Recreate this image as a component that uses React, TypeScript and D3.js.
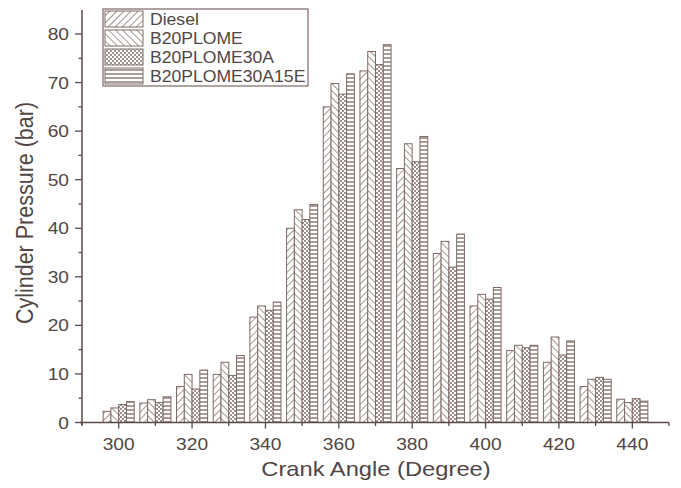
import React from "react";
import * as d3 from "d3";

const angles = [300, 310, 320, 330, 340, 350, 360, 370, 380, 390, 400, 410, 420, 430, 440];
const diesel = [2.3, 4.0, 7.4, 9.9, 21.7, 40.0, 65.0, 72.4, 52.3, 34.8, 24.0, 14.8, 12.4, 7.4, 4.8];
const b20plome = [3.0, 4.7, 9.9, 12.4, 24.0, 43.8, 69.8, 76.4, 57.4, 37.3, 26.4, 15.9, 17.6, 8.9, 4.1];
const b20plome30a = [3.7, 4.1, 6.9, 9.7, 23.1, 41.8, 67.6, 73.7, 53.7, 32.0, 25.4, 15.4, 13.9, 9.3, 4.9];
const b20plome30a15e = [4.3, 5.3, 10.8, 13.8, 24.8, 44.9, 71.8, 77.8, 58.9, 38.8, 27.8, 15.9, 16.8, 8.9, 4.4];
const seriesNames = ["Diesel", "B20PLOME", "B20PLOME30A", "B20PLOME30A15E"];
const xTicks = [300, 320, 340, 360, 380, 400, 420, 440];
const xMinor = [290, 310, 330, 350, 370, 390, 410, 430, 450];
const yTicks = [0, 10, 20, 30, 40, 50, 60, 70, 80];
const yMinor = [5, 15, 25, 35, 45, 55, 65, 75];

const W = 681, H = 488;
const x = d3.scaleLinear().domain([290, 450]).range([82, 669]);
const y = d3.scaleLinear().domain([0, 80]).range([422.5, 34]);
const axisColor = "#5a4a47";
const textColor = "#524644";
const barStroke = "#7e6a66";
const patLine = "#8f7b77";
const FONT = "'Liberation Sans', Arial, sans-serif";
const SX = 1.13;

const allSeries = [diesel, b20plome, b20plome30a, b20plome30a15e];
const patternIds = ["pDiesel", "pB20", "pB20A", "pB20AE"];

function SText(props: { x: number; y: number; size: number; anchor?: string; sx?: number; rot?: number; children: React.ReactNode }) {
  const sx = props.sx ?? SX;
  const rot = props.rot ? ` rotate(${props.rot})` : "";
  return (
    <text
      transform={`translate(${props.x},${props.y}) scale(${sx},1)${rot}`}
      textAnchor={props.anchor ?? "start"}
      fontFamily={FONT}
      fontSize={props.size}
      fill={textColor}
    >
      {props.children}
    </text>
  );
}

export default function App() {
  const step = x(310) - x(300);
  const bw = step * 0.212;
  const legendRows = [19, 38, 57, 76];
  return (
    <svg width={W} height={H} style={{ position: "absolute", left: 0, top: 0, background: "#fff" }}>
      <defs>
        <pattern id="pDiesel" patternUnits="userSpaceOnUse" width={5} height={5} patternTransform="rotate(45)">
          <rect width={5} height={5} fill="#fff" />
          <line x1={0} y1={0} x2={0} y2={5} stroke={patLine} strokeWidth={1.6} />
        </pattern>
        <pattern id="pB20" patternUnits="userSpaceOnUse" width={5} height={5} patternTransform="rotate(-45)">
          <rect width={5} height={5} fill="#fff" />
          <line x1={0} y1={0} x2={0} y2={5} stroke={patLine} strokeWidth={1.6} />
        </pattern>
        <pattern id="pB20A" patternUnits="userSpaceOnUse" width={4} height={4}>
          <rect width={4} height={4} fill="#fff" />
          <rect x={0} y={0} width={2} height={2} fill={patLine} opacity={0.85} />
          <rect x={2} y={2} width={2} height={2} fill={patLine} opacity={0.85} />
        </pattern>
        <pattern id="pB20AE" patternUnits="userSpaceOnUse" width={5} height={4}>
          <rect width={5} height={4} fill="#fff" />
          <line x1={0} y1={2} x2={5} y2={2} stroke={patLine} strokeWidth={1.5} />
        </pattern>
      </defs>
      <rect width={W} height={H} fill="#fff" />

      {/* bars */}
      {allSeries.map((vals, si) => (
        <g key={si}>
          {angles.map((a, i) => {
            const cx = x(a) + (si - 2) * bw;
            return (
              <rect
                key={i}
                x={cx}
                y={y(vals[i])}
                width={bw}
                height={y(0) - y(vals[i])}
                fill={`url(#${patternIds[si]})`}
                stroke={barStroke}
                strokeWidth={1}
              />
            );
          })}
        </g>
      ))}

      {/* axes */}
      <line x1={82} x2={82} y1={10} y2={425} stroke={axisColor} strokeWidth={1.5} />
      <line x1={80} x2={669} y1={y(0)} y2={y(0)} stroke={axisColor} strokeWidth={1.5} />
      {yTicks.map((t) => (
        <g key={t}>
          <line x1={75} x2={82} y1={y(t)} y2={y(t)} stroke={axisColor} strokeWidth={1.3} />
          <SText x={69} y={y(t) + 6} size={17} anchor="end">{t}</SText>
        </g>
      ))}
      {yMinor.map((t) => (
        <line key={t} x1={78.5} x2={82} y1={y(t)} y2={y(t)} stroke={axisColor} strokeWidth={1.3} />
      ))}
      {xTicks.map((t) => (
        <g key={t}>
          <line x1={x(t)} x2={x(t)} y1={y(0)} y2={y(0) + 6} stroke={axisColor} strokeWidth={1.3} />
          <SText x={x(t)} y={450} size={17} anchor="middle">{t}</SText>
        </g>
      ))}
      {xMinor.map((t) => (
        <line key={t} x1={x(t)} x2={x(t)} y1={y(0)} y2={y(0) + 3.5} stroke={axisColor} strokeWidth={1.3} />
      ))}

      {/* axis titles */}
      <SText x={376} y={476} size={21} anchor="middle">Crank Angle (Degree)</SText>
      <text
        transform={`translate(33,213) scale(${SX},1) rotate(-90)`}
        textAnchor="middle"
        fontFamily={FONT}
        fontSize={21.5}
        fill={textColor}
      >
        Cylinder Pressure (bar)
      </text>

      {/* legend */}
      <rect x={103} y={9} width={205} height={77} fill="#fff" stroke="#7a6864" strokeWidth={1.2} />
      {seriesNames.map((n, i) => (
        <g key={n}>
          <rect x={105} y={legendRows[i] - 8} width={38} height={16} fill={`url(#${patternIds[i]})`} stroke={barStroke} strokeWidth={1} />
          <SText x={150} y={legendRows[i] + 6} size={16} sx={1.1}>{n}</SText>
        </g>
      ))}
    </svg>
  );
}
